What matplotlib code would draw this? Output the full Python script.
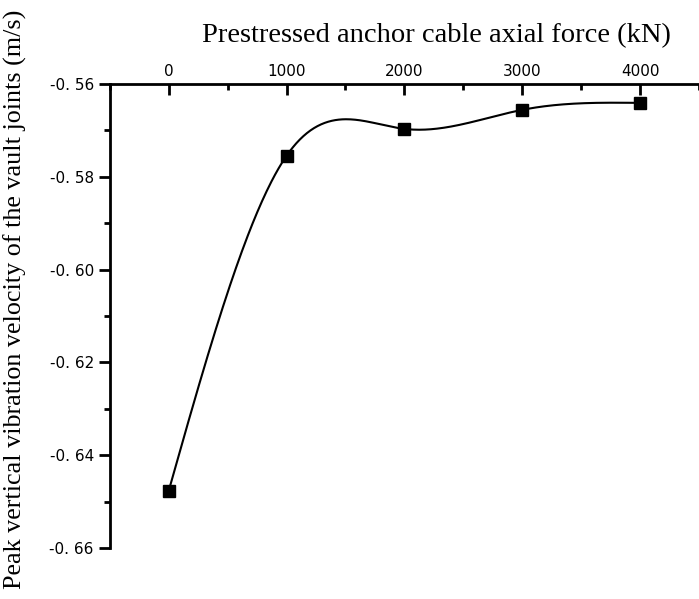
import numpy as np
import matplotlib
matplotlib.use("Agg")
import matplotlib.pyplot as plt
from matplotlib.ticker import MultipleLocator

# data
force = [0, 1000, 2000, 3000, 4000]
velocity = [-0.6477, -0.5755, -0.5697, -0.5656, -0.5641]
yticks = [-0.56, -0.58, -0.60, -0.62, -0.64, -0.66]
ytick_labels = ["-0. 56", "-0. 58", "-0. 60", "-0. 62", "-0. 64", "-0. 66"]


def natural_spline(x, y, xs):
    """Natural cubic spline through (x, y), evaluated at xs."""
    x = np.asarray(x, float)
    y = np.asarray(y, float)
    n = len(x)
    h = np.diff(x)
    A = np.zeros((n, n))
    r = np.zeros(n)
    A[0, 0] = A[-1, -1] = 1
    for i in range(1, n - 1):
        A[i, i - 1] = h[i - 1]
        A[i, i] = 2 * (h[i - 1] + h[i])
        A[i, i + 1] = h[i]
        r[i] = 3 * ((y[i + 1] - y[i]) / h[i] - (y[i] - y[i - 1]) / h[i - 1])
    c = np.linalg.solve(A, r)
    b = (np.diff(y) / h) - h * (2 * c[:-1] + c[1:]) / 3
    d = np.diff(c) / (3 * h)
    idx = np.clip(np.searchsorted(x, xs) - 1, 0, n - 2)
    dx = xs - x[idx]
    return y[idx] + b[idx] * dx + c[idx] * dx**2 + d[idx] * dx**3


plt.rcParams["font.family"] = ["Liberation Serif", "DejaVu Serif"]

fig = plt.figure(figsize=(6.99, 5.99), dpi=100)
ax = fig.add_axes([0.157, 0.085, 0.843, 0.775])

xs = np.linspace(force[0], force[-1], 400)
ax.plot(xs, natural_spline(force, velocity, xs), color="black", lw=1.5)
ax.plot(force, velocity, "s", color="black", ms=9, ls="none")

ax.set_xlim(-500, 4500)
ax.set_ylim(-0.66, -0.56)

ax.xaxis.tick_top()
ax.set_xticks(force)
ax.xaxis.set_minor_locator(MultipleLocator(500))
ax.set_yticks(yticks)
ax.set_yticklabels(ytick_labels)
ax.yaxis.set_minor_locator(MultipleLocator(0.01))

ax.tick_params(axis="x", which="both", direction="in", width=2, labelsize=11)
ax.tick_params(axis="x", which="major", length=8)
ax.tick_params(axis="x", which="minor", length=4)
ax.tick_params(axis="y", which="both", direction="out", width=2, labelsize=11)
ax.tick_params(axis="y", which="major", length=8)
ax.tick_params(axis="y", which="minor", length=4)
for lbl in ax.get_xticklabels() + ax.get_yticklabels():
    lbl.set_family("DejaVu Sans")

for side in ("right", "bottom"):
    ax.spines[side].set_visible(False)
for side in ("left", "top"):
    ax.spines[side].set_linewidth(2)

# axis titles placed by hand, as in the source figure
fig.text(0.624, 0.94, "Prestressed anchor cable axial force (kN)",
         fontsize=20.5, ha="center", va="center")
fig.text(0.022, 0.5, "Peak vertical vibration velocity of the vault joints (m/s)",
         fontsize=18.8, rotation=90, ha="center", va="center")

fig.savefig("out.png", dpi=100)
